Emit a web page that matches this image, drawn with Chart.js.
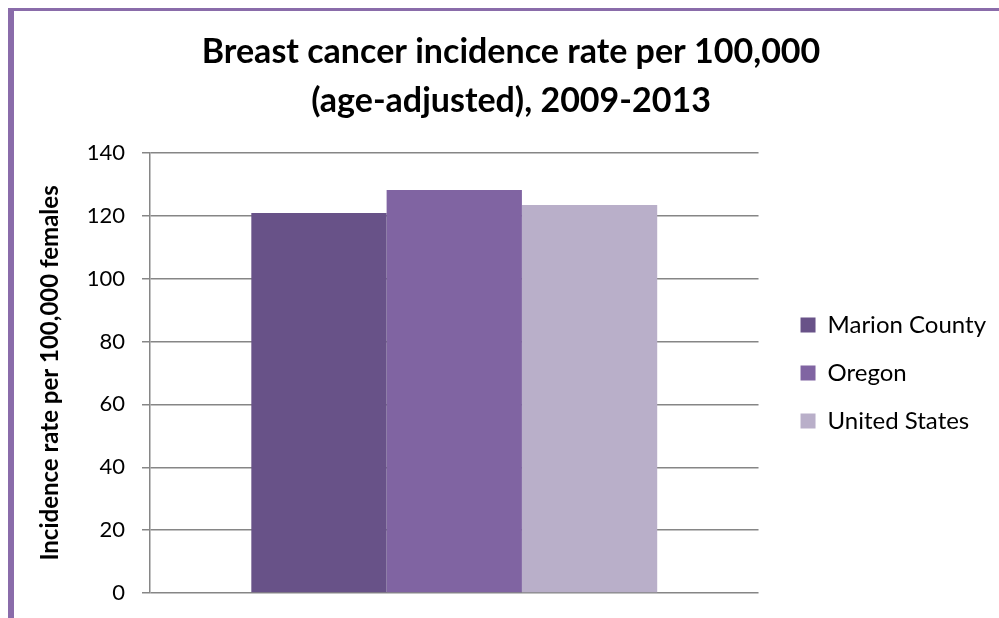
<!DOCTYPE html>
<html>
<head>
<meta charset="utf-8">
<script src="https://cdn.jsdelivr.net/npm/chart.js@4.4.1/dist/chart.umd.min.js"></script>
<style>
    html, body { margin: 0; padding: 0; background: #fff; }
    #wrap { position: relative; width: 999px; height: 618px; overflow: hidden; }
    #frame {
        position: absolute; left: 8px; top: 8px; width: 1200px; height: 700px;
        border-left: 6px solid #8A6CAA; border-top: 3px solid #8A6CAA;
        box-sizing: border-box;
    }
    #chart { position: absolute; left: 0; top: 0; }
</style>
</head>
<body>
<div id="wrap">
    <div id="frame"></div>
    <canvas id="chart" width="999" height="618"></canvas>
</div>
<script>
// Data
const categories = [''];
const seriesNames = ['Marion County', 'Oregon', 'United States'];
const marionValues = [120.9];
const oregonValues = [128.2];
const usValues = [123.4];
const yTicks = [0, 20, 40, 60, 80, 100, 120, 140];

const titleLines = ['Breast cancer incidence rate per 100,000', '(age-adjusted), 2009-2013'];
const yAxisTitle = 'Incidence rate per 100,000 females';

// Colors
const SERIES_COLORS = ['#685288', '#8064A2', '#B9AFC9'];
const GRID_COLOR = '#868686';

Chart.defaults.font.family = "Lato, 'Open Sans', sans-serif";
Chart.defaults.color = '#000';

// shift legend and title sideways after layout (Excel-style placement)
const nudgePlugin = {
    id: 'nudge',
    afterLayout(chart) {
        const lg = chart.legend;
        if (lg) { lg.left += 18; lg.right += 18; }
        const tb = chart.titleBlock;
        if (tb) { tb.left += 22; tb.right += 22; }
    }
};

const ctx = document.getElementById('chart');

new Chart(ctx, {
    type: 'bar',
    data: {
        labels: categories,
        datasets: [
            { label: seriesNames[0], data: marionValues, backgroundColor: SERIES_COLORS[0] },
            { label: seriesNames[1], data: oregonValues, backgroundColor: SERIES_COLORS[1] },
            { label: seriesNames[2], data: usValues, backgroundColor: SERIES_COLORS[2] }
        ]
    },
    options: {
        responsive: false,
        animation: false,
        layout: { padding: { left: 0, right: 21, top: 0, bottom: 25 } },
        datasets: {
            bar: { categoryPercentage: 0.667, barPercentage: 1.0 }
        },
        plugins: {
            tooltip: { enabled: false },
            title: {
                display: true,
                text: titleLines,
                color: '#000',
                font: { size: 34, weight: 'bold', lineHeight: 1.44 },
                padding: { top: 28, bottom: 27 }
            },
            legend: {
                display: true,
                position: 'right',
                fullSize: false,
                labels: {
                    boxWidth: 15,
                    boxHeight: 15,
                    padding: 24,
                    color: '#000',
                    font: { size: 24 }
                }
            }
        },
        scales: {
            x: {
                display: false,
                grid: { display: false }
            },
            y: {
                min: 0,
                max: 140,
                afterFit(scale) {
                    scale.width = 150;
                    // keep label padding from pushing the plot up
                    scale.paddingTop = 13;
                    scale.paddingBottom = 13;
                },
                afterBuildTicks(scale) { scale.ticks = yTicks.map(v => ({ value: v })); },
                grid: { color: GRID_COLOR, lineWidth: 1.5, tickLength: 8 },
                border: { color: GRID_COLOR, width: 1.5 },
                ticks: { padding: 17, color: '#000', font: { size: 22 } },
                title: {
                    display: true,
                    text: yAxisTitle,
                    color: '#000',
                    font: { size: 24, weight: 'bold' },
                    padding: { top: 36 }
                }
            }
        }
    },
    plugins: [nudgePlugin]
});
</script>
</body>
</html>
